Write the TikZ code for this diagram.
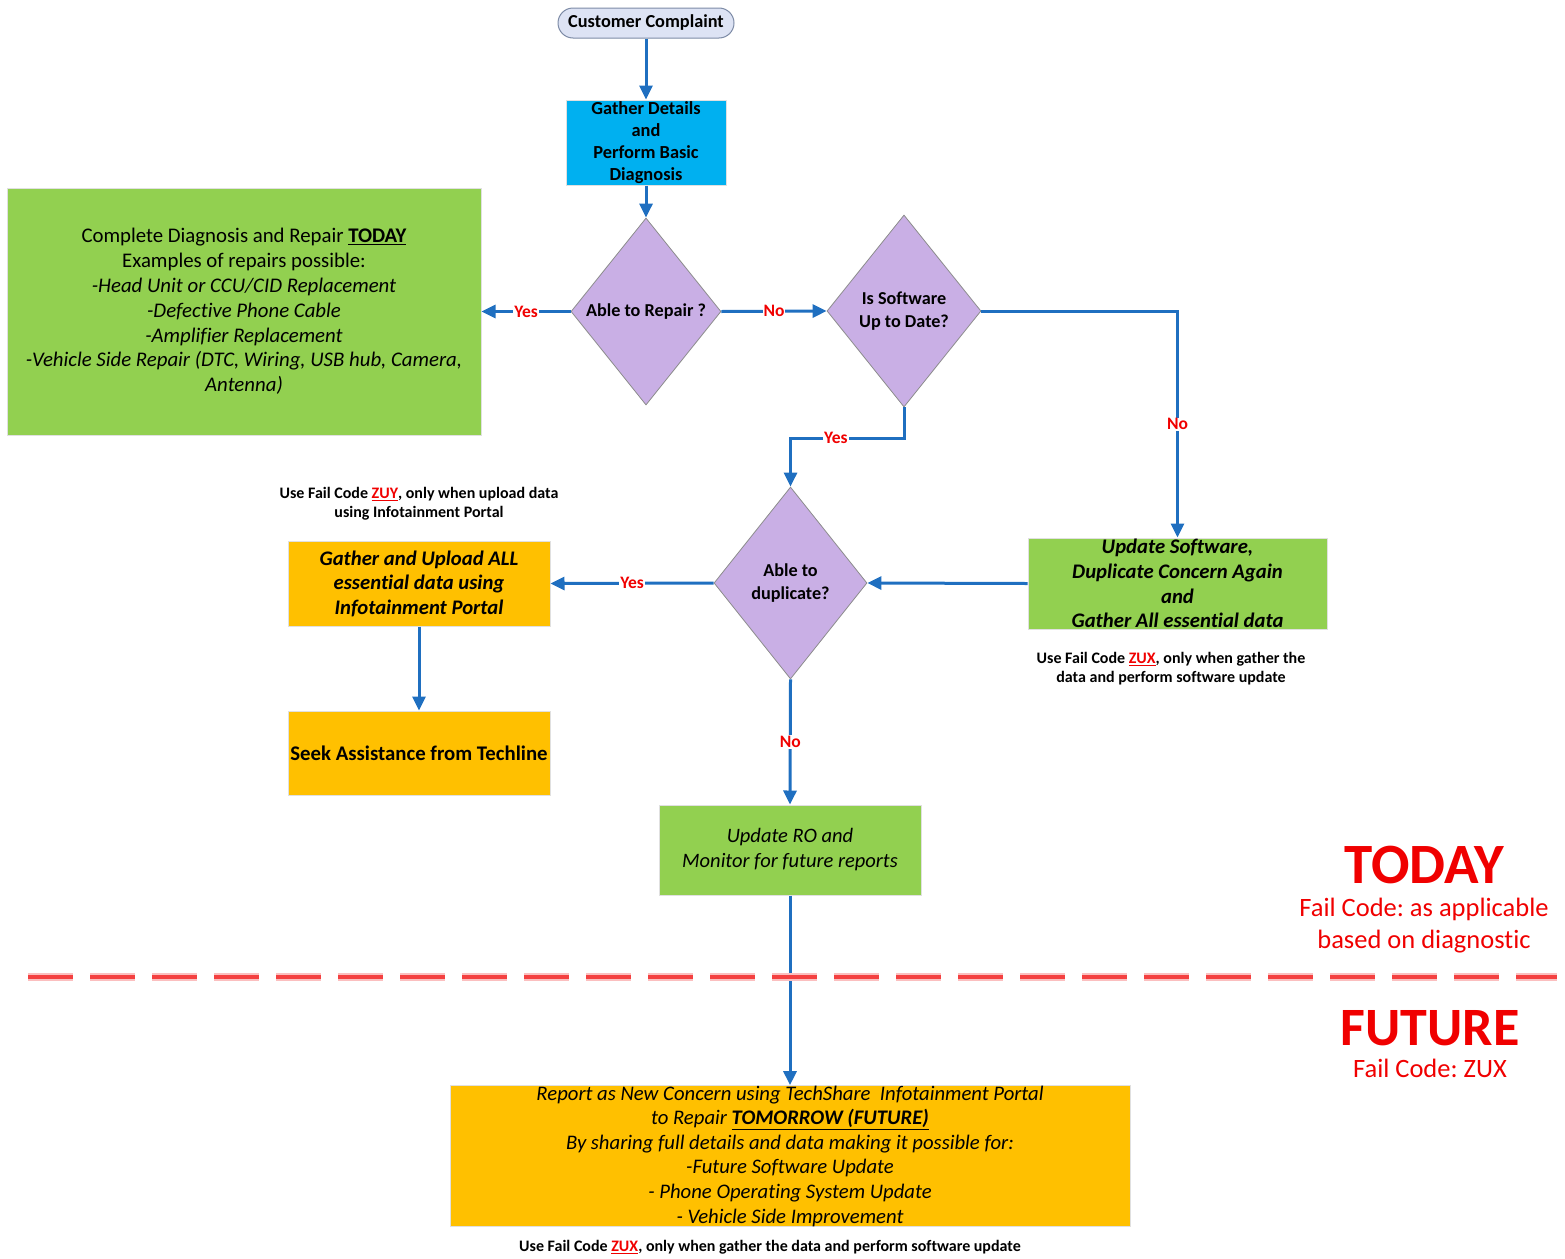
\documentclass[tikz,border=0pt]{standalone}
\usepackage{fontspec}
\setmainfont[Ligatures={NoCommon}]{Carlito}
\usetikzlibrary{shapes.geometric,arrows.meta}
\frenchspacing

\definecolor{flowblue}{HTML}{1F6FC0}
\definecolor{boxblue}{HTML}{00B0F0}
\definecolor{boxgreen}{HTML}{92D050}
\definecolor{boxorange}{HTML}{FFC000}
\definecolor{boxpurple}{HTML}{C9AFE5}
\definecolor{termfill}{HTML}{DDE3F4}
\definecolor{termline}{HTML}{7D8BA6}
\definecolor{failred}{HTML}{F00000}

\tikzset{
  flow/.style={draw=flowblue, line width=3pt, -{Triangle[length=14pt,width=13pt]}},
  lbl/.style={fill=white, text=failred, inner sep=1pt, font=\bfseries\fontsize{17.5}{20}\selectfont},
  box/.style={draw=black!12, line width=1pt, align=center, inner sep=0pt},
  decision/.style={diamond, draw=black!45, line width=0.8pt, fill=boxpurple,
    align=center, inner sep=0pt, font=\bfseries\fontsize{18.2}{22.5}\selectfont},
  note/.style={align=center, inner sep=0pt, font=\bfseries\fontsize{16}{19}\selectfont},
  dashline/.style={draw=failred!75, line width=4pt, dash pattern=on 45pt off 17pt}
}
\newcommand{\zcode}[1]{\textcolor{failred}{\underline{#1}}}

\begin{document}
\begin{tikzpicture}[x=1pt, y=-1pt]
  \useasboundingbox (0,0) rectangle (1565,1258);

  % top of the flow
  \node[box, draw=termline, fill=termfill, rounded corners=15pt, minimum width=176pt,
    minimum height=30pt, font=\bfseries\fontsize{18.3}{20}\selectfont] (complaint) at (646,23)
    {Customer Complaint};
  \node[box, fill=boxblue, minimum width=160pt, minimum height=85pt,
    font=\bfseries\fontsize{18.4}{22}\selectfont] (gather) at (646,142.5)
    {Gather Details\\and\\Perform Basic\\Diagnosis};

  % decisions
  \node[decision, minimum width=150pt, minimum height=187pt] (repair) at (646,311.5)
    {Able to Repair ?};
  \node[decision, minimum width=154pt, minimum height=192pt] (software) at (904,311)
    {Is Software\\Up to Date?};
  \node[decision, minimum width=153pt, minimum height=192pt] (dup) at (790.5,583)
    {Able to\\duplicate?};

  % boxes
  \node[box, fill=boxgreen, minimum width=474pt, minimum height=247pt,
    font=\fontsize{20.8}{24.8}\selectfont] (today) at (244,311.5)
    {Complete Diagnosis and Repair \textbf{\underline{TODAY}}\\
     Examples of repairs possible:\\
     \textit{-Head Unit or CCU/CID Replacement}\\
     \textit{-Defective Phone Cable}\\
     \textit{-Amplifier Replacement}\\
     \textit{-Vehicle Side Repair (DTC, Wiring, USB hub, Camera,}\\
     \textit{Antenna)}};
  \node[box, fill=boxgreen, minimum width=299pt, minimum height=91pt,
    font=\bfseries\itshape\fontsize{20.7}{24.7}\selectfont] (upd) at (1177.5,583.5)
    {Update Software,\\Duplicate Concern Again\\and\\Gather All essential data};
  \node[box, fill=boxorange, minimum width=262pt, minimum height=85pt,
    font=\bfseries\itshape\fontsize{20.7}{24.5}\selectfont] (upload) at (419,583.5)
    {Gather and Upload ALL\\essential data using\\Infotainment Portal};
  \node[box, fill=boxorange, minimum width=262pt, minimum height=84pt,
    font=\bfseries\fontsize{20.8}{24}\selectfont] (seek) at (419,753)
    {Seek Assistance from Techline};
  \node[box, fill=boxgreen, minimum width=262pt, minimum height=90pt,
    font=\itshape\fontsize{20.5}{25}\selectfont] (monitor) at (790,850)
    {Update RO and\\Monitor for future reports};
  \node[box, fill=boxorange, minimum width=680pt, minimum height=140pt,
    font=\itshape\fontsize{20.7}{24.6}\selectfont] (report) at (790,1156)
    {Report as New Concern using TechShare\ \ Infotainment Portal\\
     to Repair \textbf{\underline{TOMORROW (FUTURE)}}\\
     By sharing full details and data making it possible for:\\
     -Future Software Update\\
     - Phone Operating System Update\\
     - Vehicle Side Improvement};

  % fail code notes
  \node[note] (zuynote) at (419,503.5)
    {Use Fail Code \zcode{ZUY}, only when upload data\\using Infotainment Portal};
  \node[note] (zuxnote) at (1171,668.5)
    {Use Fail Code \zcode{ZUX}, only when gather the\\data and perform software update};
  \node[note] (zuxbottom) at (770,1247)
    {Use Fail Code \zcode{ZUX}, only when gather the data and perform software update};

  % connectors
  \draw[flow] (complaint.south) -- (gather.north);
  \draw[flow] (gather.south) -- (repair.north);
  \draw[flow] (repair.west) -- node[lbl] {Yes} (today.east);
  \draw[flow] (repair.east) -- node[lbl] {No} (software.west);
  \draw[flow] (software.east) -| node[lbl, pos=0.75] {No} (upd.north);
  \coordinate (yesbend) at (904,438);
  \draw[flow] (software.south) -- (yesbend) -| node[lbl, pos=0.3] {Yes} (dup.north);
  \draw[flow] (upd.west) -- (dup.east);
  \draw[flow] (dup.west) -- node[lbl] {Yes} (upload.east);
  \draw[flow] (upload.south) -- (seek.north);
  \draw[flow] (dup.south) -- node[lbl] {No} (monitor.north);
  \draw[flow] (monitor.south) -- (report.north);

  % today / future split
  \coordinate (splitleft) at (28,977);
  \coordinate (splitright) at (1557,977);
  \draw[dashline, draw=failred!25, line width=8pt] (splitleft) -- (splitright);
  \draw[dashline] (splitleft) -- (splitright);

  \node[text=failred, font=\bfseries\fontsize{57}{62}\selectfont] (todaytitle) at (1424,865) {TODAY};
  \node[text=failred, align=center, font=\fontsize{26.5}{32}\selectfont] (todaycode) at (1424,926)
    {Fail Code: as applicable\\based on diagnostic};
  \node[text=failred, font=\bfseries\fontsize{54}{60}\selectfont] (futuretitle) at (1430,1028) {FUTURE};
  \node[text=failred, font=\fontsize{26.5}{30}\selectfont] (futurecode) at (1430,1068) {Fail Code: ZUX};
\end{tikzpicture}
\end{document}
